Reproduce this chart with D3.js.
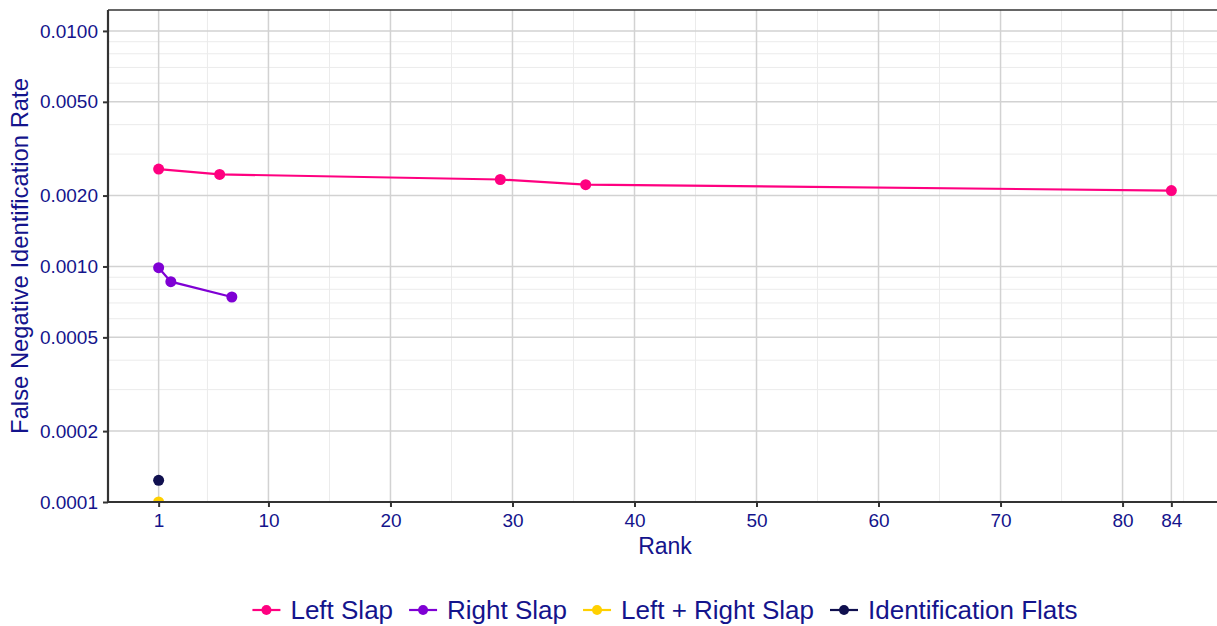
<!DOCTYPE html>
<html>
<head>
<meta charset="utf-8">
<script src="https://cdn.jsdelivr.net/npm/d3@7"></script>
<style>
    body { margin: 0; background: #fff; }
    svg { display: block; font-family: "Liberation Sans", Arial, Helvetica, sans-serif; }
</style>
</head>
<body>
<svg width="1217" height="626"></svg>
<script>
// data
const seriesNames = ["Left Slap", "Right Slap", "Left + Right Slap", "Identification Flats"];
const seriesColors = ["#ff0080", "#7f00d4", "#ffd000", "#10104f"];

const leftSlapRank = [1, 6, 29, 36, 84];
const leftSlapRate = [0.00259, 0.00246, 0.00234, 0.002225, 0.0021];
const rightSlapRank = [1, 2, 7];
const rightSlapRate = [0.000988, 0.000862, 0.000742];
const bothSlapRank = [1];
const bothSlapRate = [0.0001];
const flatsRank = [1];
const flatsRate = [0.0001236];

const xTicks = [1, 10, 20, 30, 40, 50, 60, 70, 80, 84];
const xMinor = [5, 15, 25, 35, 45, 55, 65, 75, 85];
const yTicks = [0.0001, 0.0002, 0.0005, 0.001, 0.002, 0.005, 0.01];
const yMinor = [0.0003, 0.0004, 0.0006, 0.0007, 0.0008, 0.0009,
    0.003, 0.004, 0.006, 0.007, 0.008, 0.009];

const textColor = "#14148c";

var series = [
    { name: seriesNames[0], color: seriesColors[0], pts: d3.zip(leftSlapRank, leftSlapRate) },
    { name: seriesNames[1], color: seriesColors[1], pts: d3.zip(rightSlapRank, rightSlapRate) },
    { name: seriesNames[2], color: seriesColors[2], pts: d3.zip(bothSlapRank, bothSlapRate) },
    { name: seriesNames[3], color: seriesColors[3], pts: d3.zip(flatsRank, flatsRate) },
];

var svg = d3.select("svg");
var pLeft = 108, pRight = 1222, pTop = 10, pBottom = 502;

var xScale = d3.scaleLinear().domain([-3.15, 88.15]).range([pLeft, pRight]);
var yScale = d3.scaleLog().domain([0.0001, 0.01227]).range([pBottom, pTop]);

// grid
var grid = svg.append("g");
grid.selectAll(".ymin").data(yMinor).enter().append("line")
    .attr("x1", pLeft).attr("x2", pRight)
    .attr("y1", d => yScale(d)).attr("y2", d => yScale(d))
    .attr("stroke", "#ebebeb").attr("stroke-width", 1);
grid.selectAll(".xmin").data(xMinor).enter().append("line")
    .attr("x1", d => xScale(d)).attr("x2", d => xScale(d))
    .attr("y1", pTop).attr("y2", pBottom)
    .attr("stroke", "#ebebeb").attr("stroke-width", 1);
grid.selectAll(".ymaj").data(yTicks).enter().append("line")
    .attr("x1", pLeft).attr("x2", pRight)
    .attr("y1", d => yScale(d)).attr("y2", d => yScale(d))
    .attr("stroke", "#d2d2d2").attr("stroke-width", 1.5);
grid.selectAll(".xmaj").data(xTicks).enter().append("line")
    .attr("x1", d => xScale(d)).attr("x2", d => xScale(d))
    .attr("y1", pTop).attr("y2", pBottom)
    .attr("stroke", "#d2d2d2").attr("stroke-width", 1.5);

// plot area
svg.append("clipPath").attr("id", "clip")
    .append("rect").attr("x", pLeft).attr("y", pTop)
    .attr("width", pRight - pLeft).attr("height", pBottom - pTop);

var plot = svg.append("g").attr("clip-path", "url(#clip)");
var line = d3.line().x(d => xScale(d[0])).y(d => yScale(d[1]));

series.forEach(function (s) {
    plot.append("path")
        .datum(s.pts)
        .attr("d", line)
        .attr("fill", "none")
        .attr("stroke", s.color)
        .attr("stroke-width", 2.2);
    plot.selectAll(null)
        .data(s.pts)
        .enter()
        .append("circle")
        .attr("cx", d => xScale(d[0]))
        .attr("cy", d => yScale(d[1]))
        .attr("r", 5.5)
        .attr("fill", s.color);
});

// axes
var xAxis = svg.append("g")
    .attr("transform", "translate(0," + pBottom + ")")
    .call(d3.axisBottom(xScale).tickValues(xTicks).tickSize(5).tickPadding(7));
var yAxis = svg.append("g")
    .attr("transform", "translate(" + pLeft + ",0)")
    .call(d3.axisLeft(yScale).tickValues(yTicks).tickSize(5).tickPadding(5)
        .tickFormat(d3.format(".4f")));

[xAxis, yAxis].forEach(function (ax) {
    ax.select(".domain").remove();
    ax.selectAll(".tick line").attr("stroke", "#333").attr("stroke-width", 2);
    ax.selectAll(".tick text")
        .attr("fill", textColor)
        .style("font-size", "19px")
        .style("font-family", "Liberation Sans, Arial, sans-serif");
});

// panel border lines
svg.append("line").attr("x1", pLeft).attr("x2", pRight).attr("y1", pBottom).attr("y2", pBottom)
    .attr("stroke", "#333").attr("stroke-width", 2.2);
svg.append("line").attr("x1", pLeft).attr("x2", pRight).attr("y1", pTop).attr("y2", pTop)
    .attr("stroke", "#333").attr("stroke-width", 1.5);
svg.append("line").attr("x1", pLeft).attr("x2", pLeft).attr("y1", pTop).attr("y2", pBottom + 1)
    .attr("stroke", "#333").attr("stroke-width", 2.2);

// axis titles
svg.append("text")
    .attr("x", (pLeft + pRight) / 2)
    .attr("y", 554)
    .attr("text-anchor", "middle")
    .attr("fill", textColor)
    .style("font-size", "23px")
    .text("Rank");

svg.append("text")
    .attr("text-anchor", "middle")
    .attr("transform", "translate(28," + (pTop + pBottom) / 2 + ")rotate(-90)")
    .attr("fill", textColor)
    .style("font-size", "23.8px")
    .text("False Negative Identification Rate");

// legend
var legend = svg.append("g");
var xPos = 0;
series.forEach(function (s, i) {
    var item = legend.append("g").attr("transform", "translate(" + xPos + ",0)");
    item.append("line").attr("x1", 0).attr("x2", 28).attr("y1", 0).attr("y2", 0)
        .attr("stroke", s.color).attr("stroke-width", 2.2);
    item.append("circle").attr("cx", 14).attr("cy", 0).attr("r", 5).attr("fill", s.color);
    var t = item.append("text")
        .attr("x", 38)
        .attr("y", 9)
        .attr("fill", textColor)
        .style("font-size", "26px")
        .text(s.name);
    xPos += 38 + t.node().getComputedTextLength() + 16;
});
var legendWidth = xPos - 16;
legend.attr("transform", "translate(" + ((pLeft + pRight) / 2 - legendWidth / 2) + ",610)");
</script>
</body>
</html>
